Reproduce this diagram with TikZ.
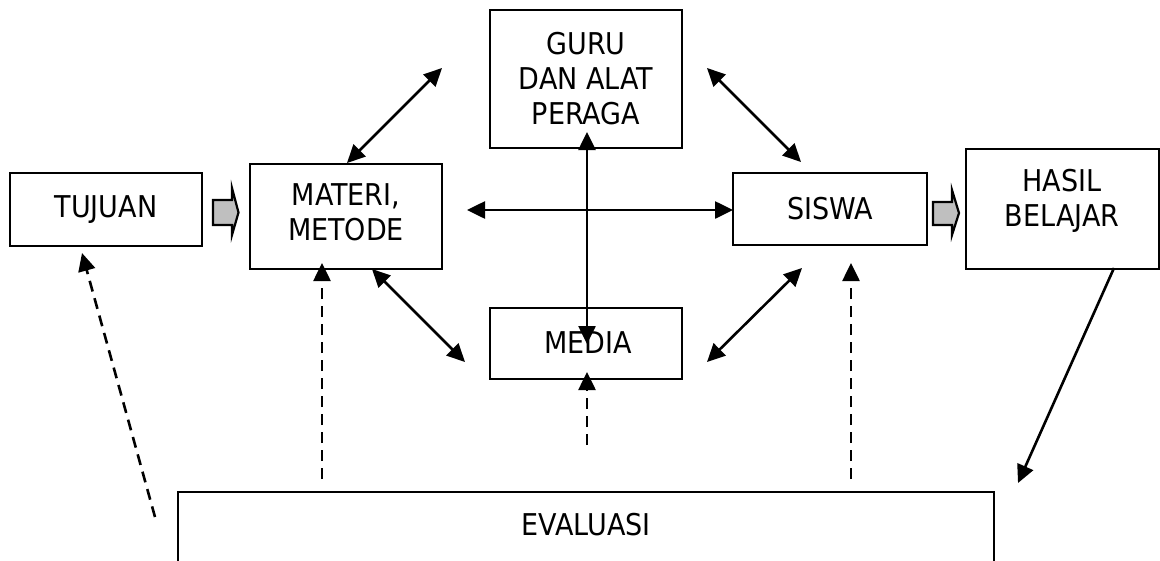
\documentclass[tikz,border=0pt]{standalone}
\usepackage{fontspec}
\setmainfont{DejaVu Sans}[FakeStretch=0.9]
\usetikzlibrary{arrows.meta}
\begin{document}
\begin{tikzpicture}[x=1pt,y=-1pt,
  box/.style={draw, line width=2.2pt, inner sep=0pt, align=center, font=\fontsize{30}{35}\selectfont},
  txt/.style={inner sep=0pt, align=center, font=\fontsize{30}{35}\selectfont},
  dbl/.style={line width=2.6pt, {Triangle[length=18pt,width=17pt]}-{Triangle[length=18pt,width=17pt]}},
  sgl/.style={line width=2.6pt, -{Triangle[length=18pt,width=17pt]}},
  dsh/.style={line width=2.6pt, dash pattern=on 11pt off 7pt, -{Triangle[length=18pt,width=17pt]}},
  blk/.style={draw, line width=2.2pt, fill=black!25, line join=miter}]
\useasboundingbox (0,0) rectangle (1160,560);
% boxes
\node[box, minimum width=192pt, minimum height=73pt] (tujuan) at (106,209.5) {TUJUAN};
\node[box, minimum width=192pt, minimum height=105pt] (materi) at (346,216.5) {};
\node[txt] (materiT) at (346,212) {MATERI,\\METODE};
\node[box, minimum width=192pt, minimum height=138pt] (guru) at (586,79) {GURU\\DAN ALAT\\PERAGA};
\node[box, minimum width=192pt, minimum height=71pt] (media) at (586,343.5) {};
\node[txt] (mediaT) at (588,343) {MEDIA};
\node[box, minimum width=194pt, minimum height=72pt] (siswa) at (830,209) {SISWA};
\node[box, minimum width=193pt, minimum height=120pt] (hasil) at (1062.5,209) {};
\node[txt] (hasilT) at (1062,201) {HASIL\\BELAJAR};
\node[box, minimum width=816pt, minimum height=75pt] (eval) at (586,529.5) {};
\node[txt] (evalT) at (586,525) {EVALUASI};
% block arrows
\path[blk] (213,200) -- (232,200) -- (232,188) -- (238.5,212.5) -- (232,235) -- (232,225) -- (213,225) -- cycle;
\path[blk] (933,202) -- (952,202) -- (952,190) -- (959,213) -- (952,235) -- (952,225) -- (933,225) -- cycle;
% endpoint coordinates
\coordinate (mg1) at (347,163);
\coordinate (mg2) at (442,68);
\coordinate (gs1) at (707,68);
\coordinate (gs2) at (801,162);
\coordinate (mm1) at (372,269);
\coordinate (mm2) at (465,362);
\coordinate (sm1) at (802,268);
\coordinate (sm2) at (707,362);
\coordinate (h1) at (467,210);
\coordinate (h2) at (733,210);
\coordinate (v1) at (587,132);
\coordinate (v2) at (587,344);
\coordinate (dm1) at (587,445);
\coordinate (dm2) at (587,372);
\coordinate (dl1) at (322,479);
\coordinate (dl2) at (322,263);
\coordinate (dr1) at (851,479);
\coordinate (dr2) at (851,263);
\coordinate (dt1) at (155,517);
\coordinate (dt2) at (82,253);
\coordinate (he1) at (1114,268);
\coordinate (he2) at (1018,483);
% connectors
\draw[dbl] (mg1) -- (mg2);
\draw[dbl] (gs1) -- (gs2);
\draw[dbl] (mm1) -- (mm2);
\draw[dbl] (sm1) -- (sm2);
\draw[dbl] (h1) -- (h2);
\draw[dbl] (v1) -- (v2);
\draw[dsh] (dm1) -- (dm2);
\draw[dsh] (dl1) -- (dl2);
\draw[dsh] (dr1) -- (dr2);
\draw[dsh] (dt1) -- (dt2);
\draw[sgl] (he1) -- (he2);
\end{tikzpicture}
\end{document}
